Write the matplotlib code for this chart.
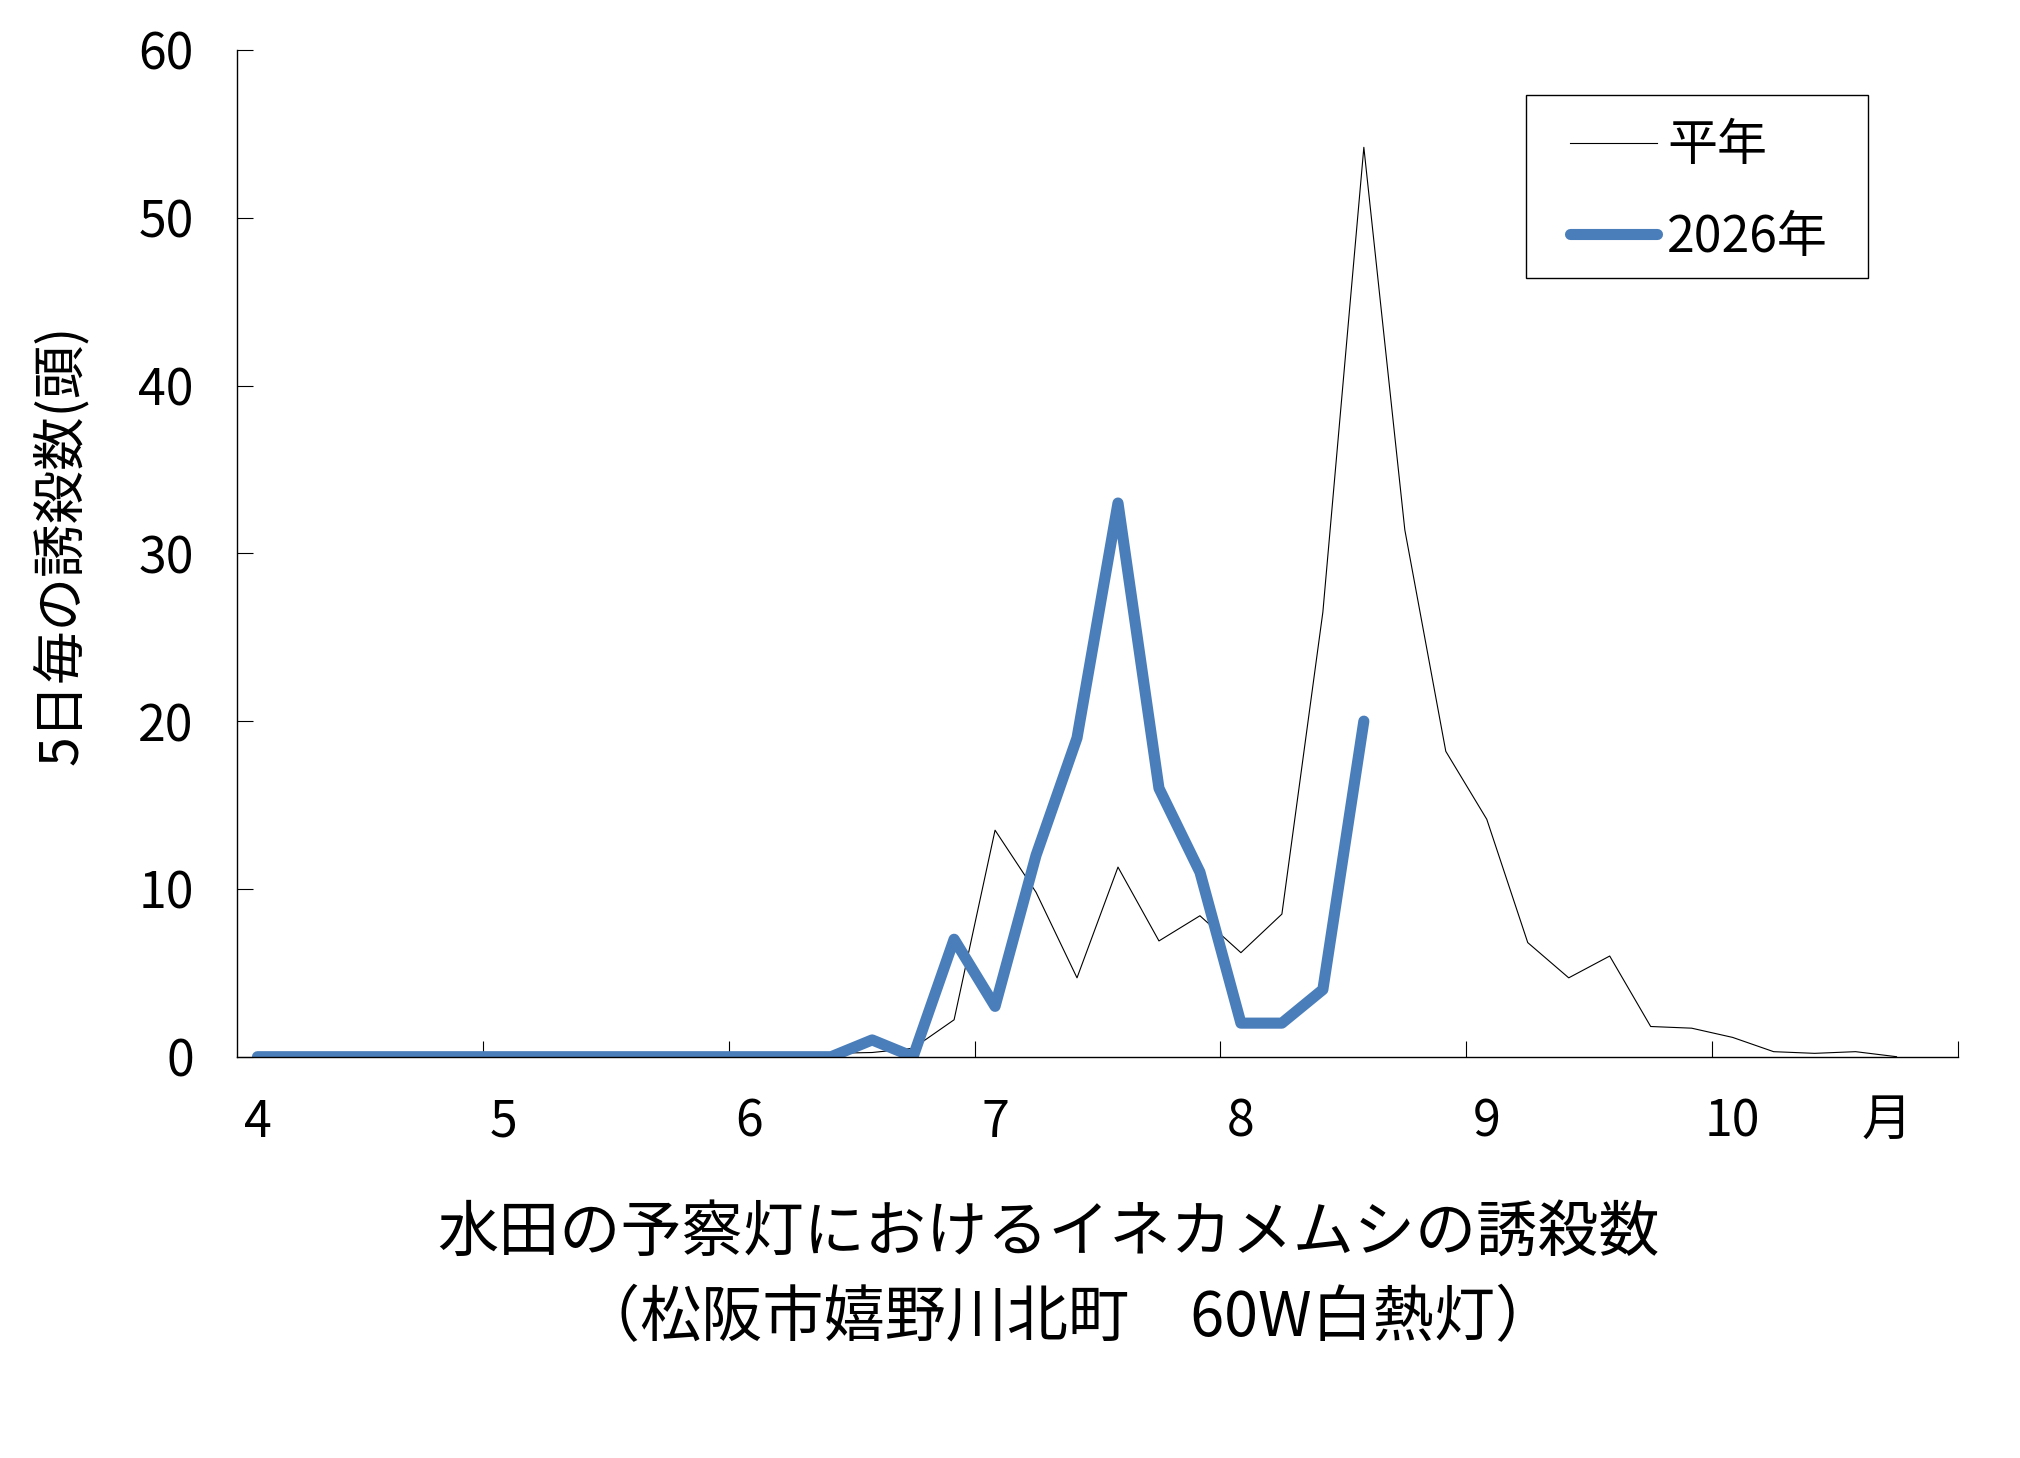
import numpy as np
import matplotlib
matplotlib.use("Agg")
import matplotlib.pyplot as plt
from matplotlib.patches import Rectangle

plt.rcParams['font.family'] = ['Noto Sans CJK JP', 'DejaVu Sans']

# 5-day periods from April 1 (42 periods, Apr - Oct)
periods = np.arange(42)
month_labels = ["4", "5", "6", "7", "8", "9", "10"]
month_start_period = [0, 6, 12, 18, 24, 30, 36]
month_unit = "月"

normal_year = [0, 0, 0, 0, 0, 0, 0, 0, 0, 0, 0, 0, 0, 0.1,
               0.2, 0.25, 0.5, 2.2, 13.5, 9.8, 4.7, 11.3, 6.9, 8.4,
               6.2, 8.5, 26.5, 54.2, 31.4, 18.2, 14.15, 6.8, 4.7, 6.0,
               1.8, 1.7, 1.15, 0.3, 0.2, 0.3, 0.0, np.nan]
year_2026 = [0, 0, 0, 0, 0, 0, 0, 0, 0, 0, 0, 0, 0, 0,
             0, 1, 0, 7, 3, 12, 19, 33, 16, 11,
             2, 2, 4, 20] + [np.nan] * 14

series_names = ["平年", "2026年"]
ylabel = "5日毎の誘殺数(頭)"
title1 = "水田の予察灯におけるイネカメムシの誘殺数"
title2 = "（松阪市嬉野川北町　60W白熱灯）"

W, H = 2020, 1458
fig = plt.figure(figsize=(W / 100, H / 100), dpi=100)
ax = fig.add_axes([237 / W, 1 - 1056.7 / H, (1958 - 237) / W, (1056.7 - 50) / H])

l1, = ax.plot(periods, normal_year, color="black", lw=0.8, label=series_names[0])
l2, = ax.plot(periods, year_2026, color="#4A7EBB", lw=8.0,
              solid_capstyle="round", solid_joinstyle="round", label=series_names[1])

ax.set_xlim(-0.5, 41.5)
ax.set_ylim(0, 60)
for s in ["top", "right"]:
    ax.spines[s].set_visible(False)
for s in ["left", "bottom"]:
    ax.spines[s].set_linewidth(1.0)

ax.set_yticks(np.arange(0, 61, 10))
ax.tick_params(axis="y", direction="in", length=11.5, width=0.8, labelsize=36, pad=31)

# month boundaries as major ticks, month labels as minor ticks
ax.set_xticks([-0.5 + 6 * k for k in range(1, 8)])
ax.set_xticklabels([])
ax.set_xticks(month_start_period, minor=True)
ax.set_xticklabels(month_labels, minor=True)
ax.tick_params(axis="x", which="major", direction="in", length=11.5, width=0.8)
ax.tick_params(axis="x", which="minor", length=0, labelsize=36, pad=29)
ax.text(0.9586, -0.064, month_unit, transform=ax.transAxes, ha="center", va="center", fontsize=36)

fig.text(61 / W, 1 - 545 / H, ylabel, rotation=90, ha="center", va="center", fontsize=38.5)
fig.text(1048 / W, 1 - 1233 / H, title1, ha="center", va="center", fontsize=44)
fig.text(1068 / W, 1 - 1319 / H, title2, ha="center", va="center", fontsize=44)

# legend
fig.patches.append(Rectangle((1526 / W, 1 - 278 / H), (1868 - 1526) / W, (278 - 95) / H,
                             transform=fig.transFigure, fill=False, edgecolor="black", lw=1.0))
fig.legend(handles=[l1, l2], loc="center", bbox_to_anchor=(1699 / W, 1 - 192 / H),
           frameon=False, fontsize=36, handlelength=1.75, handletextpad=0.2,
           labelspacing=0.78, borderpad=0)

fig.savefig("out.png", dpi=100)
